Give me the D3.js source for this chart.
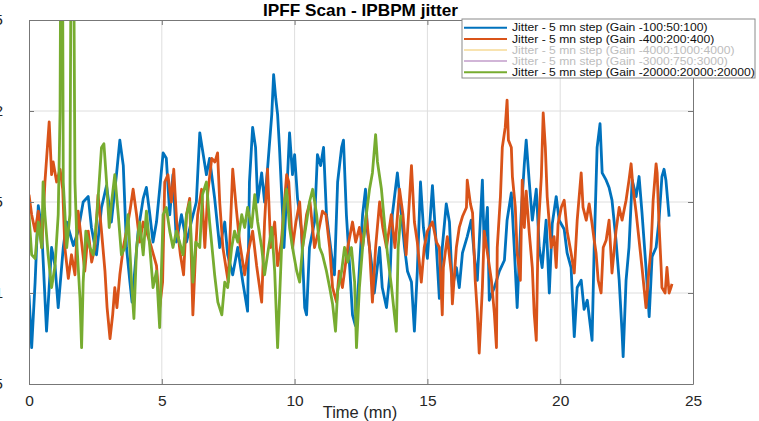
<!DOCTYPE html>
<html><head><meta charset="utf-8">
<script src="https://cdn.jsdelivr.net/npm/d3@7"></script>
<style>body{margin:0;background:#fff}svg{display:block}text{font-family:"Liberation Sans",Arial,sans-serif}</style>
</head><body><svg id="c" width="759" height="421"></svg>
<script>
const title = "IPFF Scan - IPBPM jitter";
const xLabel = "Time (mn)";
const xTicks = [0, 5, 10, 15, 20, 25];
const yTicks = [0.5, 1, 1.5, 2, 2.5];
const legendLabels = [
  "Jitter - 5 mn step (Gain -100:50:100)",
  "Jitter - 5 mn step (Gain -400:200:400)",
  "Jitter - 5 mn step (Gain -4000:1000:4000)",
  "Jitter - 5 mn step (Gain -3000:750:3000)",
  "Jitter - 5 mn step (Gain -20000:20000:20000)"
];
const legendColors = ["#0072BD", "#D95319", "#EDB120", "#7E2F8E", "#77AC30"];
const legendFaded = [false, false, true, true, false];

const blueTime = [0,0.1,0.23,0.35,0.4,0.48,0.66,0.85,0.98,1.1,1.29,1.42,1.67,1.85,2.04,2.23,2.35,2.54,2.73,2.92,3.1,3.3,3.42,3.55,3.67,3.8,3.88,3.98,4.11,4.3,4.42,4.55,4.67,4.8,4.92,5.05,5.17,5.3,5.42,5.55,5.74,5.93,6.11,6.3,6.43,6.55,6.68,6.8,6.99,7.18,7.37,7.48,7.67,7.86,8.05,8.23,8.3,8.42,8.53,8.61,8.76,8.87,8.98,9.14,9.21,9.29,9.36,9.43,9.55,9.6,9.7,9.81,9.92,10.0,10.11,10.26,10.38,10.45,10.56,10.75,10.86,10.98,11.09,11.2,11.39,11.5,11.62,11.77,11.84,11.95,12.07,12.18,12.29,12.41,12.56,12.67,12.74,12.89,13.0,13.2,13.3,13.46,13.6,13.68,13.87,14.02,14.14,14.25,14.4,14.51,14.62,14.74,14.85,15.0,15.19,15.34,15.45,15.56,15.71,15.83,15.94,16.09,16.2,16.32,16.5,16.65,16.77,16.88,17.07,17.14,17.26,17.33,17.52,17.71,17.9,18.0,18.16,18.27,18.38,18.53,18.65,18.72,18.83,18.95,19.1,19.21,19.32,19.47,19.59,19.7,19.85,19.96,20.15,20.26,20.41,20.53,20.64,20.79,20.9,21.02,21.2,21.28,21.39,21.5,21.58,21.73,21.84,21.95,22.1,22.22,22.33,22.37,22.48,22.59,22.71,22.86,22.97,23.08,23.23,23.35,23.46,23.61,23.72,23.83,23.91,23.98,24.1];
const blueJitter = [0.99,0.70,1.06,1.48,1.43,1.34,0.79,1.25,1.15,0.92,1.25,1.39,1.26,1.34,1.50,1.53,1.36,1.21,1.47,1.59,1.39,1.66,1.84,1.70,1.25,1.06,0.95,1.12,1.34,1.52,1.58,1.43,1.28,1.39,1.57,1.77,1.74,1.43,1.65,1.28,1.43,1.28,1.39,1.50,1.88,1.77,1.65,1.74,1.52,1.25,1.39,1.21,1.10,1.25,1.06,0.90,1.61,1.91,1.80,1.50,1.66,1.50,1.68,1.98,2.20,2.07,1.98,1.80,1.43,1.25,1.54,1.88,1.65,1.76,1.52,1.34,0.92,0.88,1.25,1.39,1.76,1.70,1.80,1.43,1.21,1.10,1.61,1.80,1.84,1.43,1.15,0.88,0.82,1.06,1.43,1.57,1.34,1.17,1.00,1.25,1.03,0.92,1.12,1.43,1.66,1.43,1.25,1.12,1.06,0.79,1.12,1.61,1.36,1.19,1.59,1.25,0.97,1.25,1.49,1.39,1.03,1.14,1.03,1.22,1.31,1.40,1.20,1.07,1.62,1.25,1.47,0.96,1.03,1.12,1.18,1.40,1.55,1.25,0.92,1.43,1.71,1.84,1.62,1.40,1.57,1.25,1.14,1.40,1.00,1.38,1.53,1.40,1.35,1.22,1.14,0.76,1.03,1.07,0.91,0.96,0.74,1.25,1.80,1.93,1.66,1.62,1.58,1.51,1.29,1.07,0.78,0.65,1.07,1.25,1.62,1.53,1.64,1.44,1.14,0.87,1.20,1.25,1.40,1.64,1.68,1.62,1.42];

const orangeTime = [0,0.1,0.23,0.35,0.48,0.6,0.76,0.85,0.91,1.04,1.17,1.27,1.35,1.48,1.6,1.73,1.85,1.98,2.1,2.23,2.36,2.48,2.6,2.73,2.86,2.94,3.05,3.15,3.23,3.31,3.42,3.55,3.67,3.8,3.92,4.05,4.17,4.3,4.42,4.61,4.8,4.92,5.03,5.11,5.23,5.36,5.45,5.56,5.7,5.82,5.93,6.05,6.17,6.28,6.35,6.5,6.62,6.73,6.88,7.0,7.1,7.18,7.3,7.5,7.67,7.8,7.93,8.12,8.23,8.42,8.57,8.76,8.87,8.98,9.1,9.25,9.36,9.5,9.7,9.78,9.92,10.05,10.19,10.3,10.45,10.58,10.75,10.9,11.05,11.18,11.32,11.43,11.58,11.68,11.8,12.0,12.18,12.3,12.44,12.56,12.7,12.82,12.93,13.05,13.2,13.32,13.46,13.64,13.78,13.95,14.08,14.2,14.4,14.51,14.62,14.77,14.88,15.0,15.19,15.34,15.45,15.56,15.6,15.75,15.9,15.94,16.09,16.2,16.32,16.47,16.5,16.62,16.7,16.8,16.88,16.95,17.07,17.14,17.26,17.41,17.52,17.6,17.63,17.75,17.82,17.93,18.0,18.05,18.16,18.2,18.31,18.38,18.5,18.57,18.65,18.72,18.83,18.95,19.02,19.1,19.17,19.29,19.36,19.44,19.51,19.66,19.77,19.85,19.92,20.04,20.15,20.26,20.41,20.53,20.64,20.79,20.86,20.98,21.09,21.2,21.28,21.35,21.43,21.54,21.62,21.73,21.84,21.95,22.1,22.22,22.33,22.48,22.59,22.67,22.74,22.86,22.97,23.08,23.23,23.31,23.42,23.5,23.61,23.65,23.72,23.8,23.83,23.95,24.02,24.1,24.17,24.21];
const orangeJitter = [1.54,1.43,1.34,1.45,1.25,1.61,1.94,1.65,1.72,1.61,1.68,1.57,1.25,1.08,1.21,1.10,1.45,1.28,1.12,1.34,1.17,1.25,1.54,1.34,1.12,0.92,0.75,0.88,1.03,0.92,1.10,1.25,1.34,1.45,1.57,1.43,1.28,1.39,1.34,1.25,1.15,0.92,1.06,1.61,1.65,1.50,1.68,1.39,1.21,1.10,1.43,1.52,0.88,1.25,1.43,1.57,1.25,1.55,1.74,1.72,1.77,1.50,1.25,1.06,1.68,1.47,1.28,1.10,1.21,1.34,1.15,0.95,1.39,1.68,1.25,1.39,1.15,1.28,1.65,1.61,1.25,1.39,1.50,1.25,1.43,1.50,1.25,1.34,1.45,1.43,1.25,1.03,0.95,1.12,1.03,1.25,1.39,1.28,1.36,1.25,1.43,1.25,0.95,1.25,1.50,1.36,1.25,1.43,1.25,1.57,1.43,1.21,1.70,1.39,1.28,1.06,1.25,1.34,1.39,1.28,1.25,0.88,1.14,1.31,1.11,0.94,1.25,1.36,1.42,1.47,1.62,1.49,1.44,1.07,0.89,0.67,1.03,1.34,1.22,1.07,0.89,0.70,1.25,1.53,1.80,1.91,2.06,1.84,1.80,1.64,1.47,1.22,1.07,1.62,1.36,1.56,1.34,1.14,0.89,0.74,1.34,1.64,1.99,1.80,1.53,1.25,1.31,1.14,1.38,1.47,1.51,1.34,1.22,1.11,1.40,1.66,1.47,1.40,1.49,1.38,1.29,1.22,1.07,1.00,1.25,1.29,1.40,1.11,1.34,1.47,1.40,1.51,1.62,1.71,1.58,1.44,1.29,1.14,0.92,1.07,1.25,1.51,1.71,1.66,1.38,1.14,1.03,1.00,1.14,1.00,1.03,1.05];

const greenTime = [0,0.1,0.23,0.35,0.48,0.53,0.6,0.72,0.85,0.98,1.1,1.17,1.21,1.25,1.29,1.42,1.54,1.6,1.66,1.73,1.81,1.92,1.98,2.04,2.14,2.29,2.42,2.56,2.73,2.82,2.92,3.02,3.11,3.23,3.36,3.48,3.61,3.73,3.86,3.95,4.05,4.17,4.3,4.42,4.55,4.67,4.8,4.92,5.05,5.17,5.3,5.42,5.55,5.67,5.8,5.93,6.05,6.17,6.28,6.43,6.53,6.68,6.8,6.99,7.11,7.26,7.37,7.48,7.63,7.74,7.86,8.01,8.12,8.23,8.38,8.5,8.61,8.76,8.87,8.98,9.14,9.25,9.36,9.51,9.62,9.7,9.81,9.92,10.08,10.19,10.3,10.45,10.56,10.68,10.83,10.94,11.05,11.2,11.32,11.43,11.54,11.62,11.77,11.88,12.0,12.14,12.26,12.33,12.44,12.56,12.7,12.82,12.93,13.05,13.12,13.27,13.38,13.5,13.65,13.76,13.83,13.9,14.0];
const greenJitter = [1.43,1.21,1.19,1.39,1.25,1.61,1.43,1.21,1.03,1.15,1.43,2.0,3.5,3.5,1.61,1.25,1.43,3.5,3.5,1.61,1.25,0.97,0.70,1.06,1.34,1.25,1.21,1.43,1.80,1.82,1.61,1.36,1.50,1.65,1.43,1.21,1.25,1.43,1.06,0.86,1.25,1.39,1.21,1.45,1.25,1.03,1.12,0.81,1.43,1.47,1.34,1.25,1.34,1.28,1.21,1.43,1.50,1.06,1.28,1.25,1.54,1.61,1.39,1.10,0.95,0.88,1.06,1.03,1.25,1.34,1.28,1.43,1.36,1.47,1.36,1.54,1.39,1.25,1.10,1.21,1.36,1.12,0.70,1.25,1.50,1.57,1.36,1.25,1.12,1.06,1.25,1.39,1.50,1.57,1.43,1.25,1.21,1.12,1.03,0.94,0.79,1.01,1.12,1.25,1.17,1.25,1.06,0.70,1.03,1.25,1.43,1.57,1.66,1.87,1.72,1.57,1.39,1.21,1.03,0.88,0.79,1.25,1.43];

const series = [
  {time: blueTime, jitter: blueJitter, color: legendColors[0]},
  {time: orangeTime, jitter: orangeJitter, color: legendColors[1]},
  {time: greenTime, jitter: greenJitter, color: legendColors[4]}
];

const svg = d3.select("#c");
const L = 29, R = 693, T = 20, B = 384;
const x = d3.scaleLinear().domain([0, 25]).range([L, R]);
const y = d3.scaleLinear().domain([0.5, 2.5]).range([B, T]);
const axisColor = "#777";

svg.append("defs").append("clipPath").attr("id", "clip")
  .append("rect").attr("x", L).attr("y", T).attr("width", R - L).attr("height", B - T);

// grid
const g = svg.append("g");
g.selectAll(".vg").data(xTicks.slice(1, -1)).enter().append("line")
  .attr("x1", d => x(d)).attr("x2", d => x(d)).attr("y1", T).attr("y2", B)
  .attr("stroke", "#dedede").attr("stroke-width", 1);
g.selectAll(".hg").data(yTicks.slice(1, -1)).enter().append("line")
  .attr("y1", d => y(d)).attr("y2", d => y(d)).attr("x1", L).attr("x2", R)
  .attr("stroke", "#dedede").attr("stroke-width", 1);

// data lines
const line = d3.line().x(d => x(d[0])).y(d => y(d[1]));
const lg = svg.append("g").attr("clip-path", "url(#clip)");
series.forEach(s => {
  const pts = s.time.map((t, i) => [t, s.jitter[i]]);
  lg.append("path").datum(pts).attr("d", line)
    .attr("fill", "none").attr("stroke", s.color).attr("stroke-width", 2.8)
    .attr("stroke-linejoin", "round");
});

// axes (box with inward ticks)
const xb = d3.axisBottom(x).tickValues(xTicks).tickSizeInner(-5).tickSizeOuter(0).tickPadding(11);
const xt = d3.axisTop(x).tickValues(xTicks).tickSizeInner(-5).tickSizeOuter(0).tickFormat("");
const yl = d3.axisLeft(y).tickValues(yTicks).tickSizeInner(-5).tickSizeOuter(0).tickPadding(26).tickFormat(d3.format("~g"));
const yr = d3.axisRight(y).tickValues(yTicks).tickSizeInner(-5).tickSizeOuter(0).tickFormat("");

function style(sel) {
  sel.select(".domain").attr("stroke", axisColor);
  sel.selectAll(".tick line").attr("stroke", axisColor);
  sel.selectAll(".tick text").attr("fill", "#262626").style("font-size", "15.5px")
    .style("font-family", "'Liberation Sans', Arial, sans-serif");
}
svg.append("g").attr("transform", `translate(0,${B})`).call(xb).call(style);
svg.append("g").attr("transform", `translate(0,${T})`).call(xt).call(style);
svg.append("g").attr("transform", `translate(${L},0)`).call(yl).call(style);
svg.append("g").attr("transform", `translate(${R},0)`).call(yr).call(style);

// labels
svg.append("text").attr("x", 360.5).attr("y", 16).attr("text-anchor", "middle")
  .attr("textLength", 195).attr("lengthAdjust", "spacingAndGlyphs")
  .style("font-size", "17px").style("font-weight", "bold").attr("fill", "#000").text(title);
svg.append("text").attr("x", 360).attr("y", 418).attr("text-anchor", "middle")
  .style("font-size", "16.5px").attr("fill", "#262626").text(xLabel);

// legend
const lx = 462, ly = 19, lw = 293, lh = 59;
const leg = svg.append("g");
leg.append("rect").attr("x", lx).attr("y", ly).attr("width", lw).attr("height", lh)
  .attr("fill", "#fff").attr("stroke", "#8a8a8a").attr("stroke-width", 1);
legendLabels.forEach((lab, i) => {
  const cy = 27.8 + i * 11.1;
  leg.append("line").attr("x1", lx + 2).attr("x2", lx + 45).attr("y1", cy).attr("y2", cy)
    .attr("stroke", legendColors[i]).attr("stroke-width", 2)
    .attr("opacity", legendFaded[i] ? 0.35 : 1);
  leg.append("text").attr("transform", `translate(${lx + 50},${cy + 3.6}) scale(1.19,1)`)
    .style("font-size", "10.2px").attr("fill", legendFaded[i] ? "#bdbdbd" : "#111").text(lab);
});
</script></body></html>
